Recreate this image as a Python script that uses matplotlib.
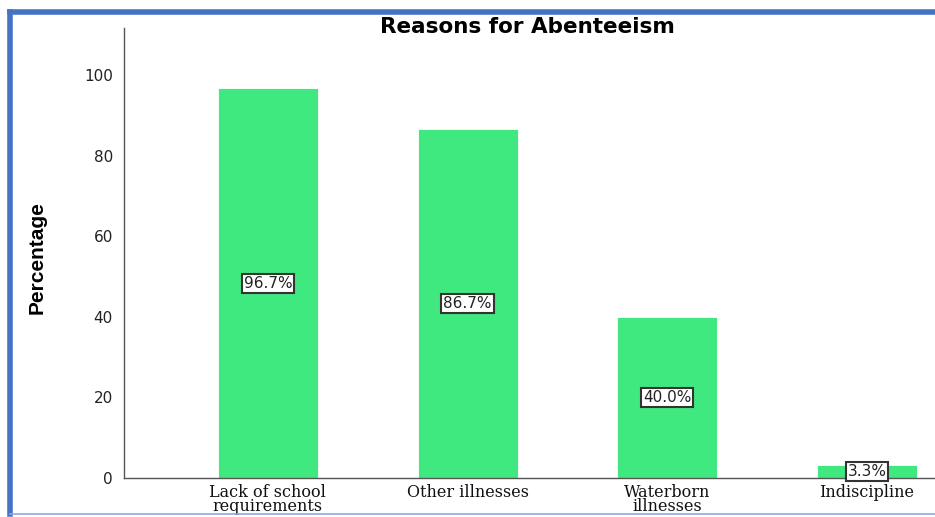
import matplotlib
matplotlib.use("Agg")
import matplotlib.pyplot as plt
from matplotlib.lines import Line2D

# Data
categories = ['Lack of school\nrequirements', 'Other illnesses', 'Waterborn\nillnesses', 'Indiscipline']
percentages = [96.7, 86.7, 40.0, 3.3]
y_ticks = [0, 20, 40, 60, 80, 100]

bar_color = '#40E880'

fig = plt.figure(figsize=(9.35, 5.17), dpi=100)
W, H = 935, 517

# Axes placed to match the reference (pixel positions)
ax = fig.add_axes([124 / W, 1 - 478 / H, (935 - 124) / W, (478 - 28) / H])

x = list(range(len(categories)))
ax.bar(x, percentages, width=0.5, color=bar_color, edgecolor='white', linewidth=0.6)

# Value labels in boxes, at middle of each bar
for xi, v in zip(x, percentages):
    ax.text(xi, v / 2, f'{v:.1f}%', ha='center', va='center', fontsize=11,
            family='DejaVu Sans', color='#222222',
            bbox=dict(boxstyle='square,pad=0.12', facecolor='white',
                      edgecolor='#333333', linewidth=1.5))

ax.set_xlim(-0.72, 3.34)
ax.set_ylim(0, 111.7)
ax.set_yticks(y_ticks)
ax.set_yticklabels([str(t) for t in y_ticks], family='DejaVu Sans', fontsize=11,
                   color='#222222')
ax.set_xticks(x)
ax.set_xticklabels(categories, family='DejaVu Serif', fontsize=11.5, color='#111111',
                   linespacing=0.8)
ax.tick_params(axis='both', length=0)
ax.tick_params(axis='y', pad=8)
ax.tick_params(axis='x', pad=4)

for side in ['top', 'right']:
    ax.spines[side].set_visible(False)
for side in ['left', 'bottom']:
    ax.spines[side].set_color('#555555')
    ax.spines[side].set_linewidth(1.0)

# Title and y label
fig.text(527 / W, 1 - 27 / H, 'Reasons for Abenteeism', ha='center', va='center',
         fontsize=15.5, fontweight='bold', family='DejaVu Sans')
fig.text(37 / W, 1 - 258 / H, 'Percentage', ha='center', va='center', rotation=90,
         fontsize=15, fontweight='bold', family=['Liberation Sans Narrow', 'Liberation Sans'],
         fontstretch='condensed')

# Blue frame around the picture
fig.add_artist(Line2D([9.5 / W, 1.0], [1 - 12 / H, 1 - 12 / H], transform=fig.transFigure,
                      color='#4472C4', linewidth=4))
fig.add_artist(Line2D([9.5 / W, 9.5 / W], [1 - 12 / H, 1 - 514 / H], transform=fig.transFigure,
                      color='#4472C4', linewidth=4))
fig.add_artist(Line2D([9.5 / W, 1.0], [1 - 514 / H, 1 - 514 / H], transform=fig.transFigure,
                      color='#8FAADC', linewidth=1.2))

fig.savefig('out.png', dpi=100)
